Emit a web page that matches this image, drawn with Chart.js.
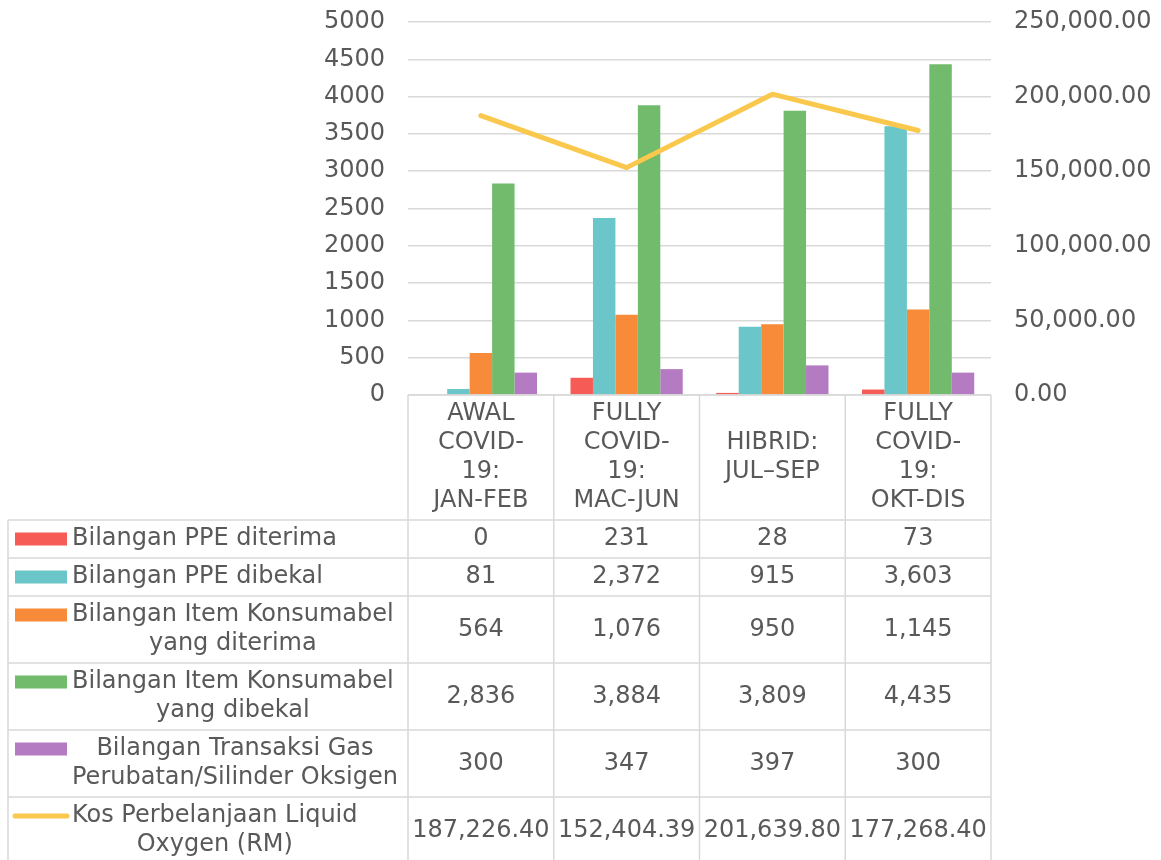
<!DOCTYPE html>
<html>
<head>
<meta charset="utf-8">
<title>PPE, Item Konsumabel dan Kos Liquid Oxygen</title>
<script src="https://cdn.jsdelivr.net/npm/chart.js@4.4.1/dist/chart.umd.min.js"></script>
<style>
  html, body { margin: 0; padding: 0; background: #ffffff; }
  #myChart { display: block; }
</style>
</head>
<body>
<canvas id="myChart" width="1161" height="860"></canvas>
<script>
// categories (multi-line, as wrapped in the table header)
const categories = [
  ['AWAL', 'COVID-', '19:', 'JAN-FEB'],
  ['FULLY', 'COVID-', '19:', 'MAC-JUN'],
  ['HIBRID:', 'JUL–SEP'],
  ['FULLY', 'COVID-', '19:', 'OKT-DIS'],
];

// series values
const ppeDiterima = [0, 231, 28, 73];
const ppeDibekal = [81, 2372, 915, 3603];
const konsumabelDiterima = [564, 1076, 950, 1145];
const konsumabelDibekal = [2836, 3884, 3809, 4435];
const transaksiGas = [300, 347, 397, 300];
const kosLiquidOxygen = [187226.40, 152404.39, 201639.80, 177268.40];

// series names, split into the lines shown in the table
const labelPpeDiterima = ['Bilangan PPE diterima'];
const labelPpeDibekal = ['Bilangan PPE dibekal'];
const labelKonsumabelDiterima = ['Bilangan Item Konsumabel', 'yang diterima'];
const labelKonsumabelDibekal = ['Bilangan Item Konsumabel', 'yang dibekal'];
const labelTransaksiGas = ['Bilangan Transaksi Gas', 'Perubatan/Silinder Oksigen'];
const labelKos = ['Kos Perbelanjaan Liquid', 'Oxygen (RM)'];

// axis ranges
const countAxis = {min: 0, max: 5000, step: 500};
const costAxis = {min: 0, max: 250000, step: 50000};

const FONT_FAMILY = '"DejaVu Sans", Verdana, sans-serif';
const FONT_SIZE = 24;
const TEXT_COLOR = '#595959';
const GRID_COLOR = '#d9d9d9';
const LINE_HEIGHT = 29;

const fmtCount = function (v) {
  return v.toLocaleString('en-US');
};
const fmtCost = function (v) {
  return v.toLocaleString('en-US', {minimumFractionDigits: 2, maximumFractionDigits: 2});
};

const tableRows = [
  {lines: labelPpeDiterima, data: ppeDiterima, color: '#f65b55', kind: 'bar', fmt: fmtCount},
  {lines: labelPpeDibekal, data: ppeDibekal, color: '#6ac6c8', kind: 'bar', fmt: fmtCount},
  {lines: labelKonsumabelDiterima, data: konsumabelDiterima, color: '#f88b39', kind: 'bar', fmt: fmtCount},
  {lines: labelKonsumabelDibekal, data: konsumabelDibekal, color: '#72ba6c', kind: 'bar', fmt: fmtCount},
  {lines: labelTransaksiGas, data: transaksiGas, color: '#b47ac2', kind: 'bar', fmt: fmtCount},
  {lines: labelKos, data: kosLiquidOxygen, color: '#f9c84c', kind: 'line', fmt: fmtCost},
];

const rowHeight = function (lineCount) {
  return lineCount * LINE_HEIGHT + 9;
};

// y axes: fixed width, and no extra vertical padding from the tick labels
const fitAxis = function (width) {
  return function (scale) {
    scale.width = width;
    scale.paddingTop = 0;
    scale.paddingBottom = 0;
  };
};

// data table under the plot: category header, legend keys and values
const dataTable = {
  id: 'dataTable',
  afterDraw: function (chart) {
    const ctx = chart.ctx;
    const area = chart.chartArea;
    const xScale = chart.scales.x;
    const colWidth = (area.right - area.left) / categories.length;
    const tableLeft = 8;
    const keyLeft = 15;
    const keyWidth = 52;
    const textLeft = 72;

    ctx.save();
    ctx.font = FONT_SIZE + 'px ' + FONT_FAMILY;
    ctx.fillStyle = TEXT_COLOR;
    ctx.strokeStyle = GRID_COLOR;
    ctx.lineWidth = 1.5;
    ctx.textBaseline = 'middle';

    const hLine = function (x1, x2, y) {
      ctx.beginPath();
      ctx.moveTo(x1, y);
      ctx.lineTo(x2, y);
      ctx.stroke();
    };
    const vLine = function (x, y1, y2) {
      ctx.beginPath();
      ctx.moveTo(x, y1);
      ctx.lineTo(x, y2);
      ctx.stroke();
    };

    // header with the category names
    const headerTop = area.bottom;
    const headerLines = Math.max.apply(null, categories.map(c => c.length));
    const headerBottom = headerTop + rowHeight(headerLines);
    hLine(area.left, area.right, headerTop);
    ctx.textAlign = 'center';
    categories.forEach(function (lines, i) {
      const cx = xScale.getPixelForValue(i);
      const cy = (headerTop + headerBottom) / 2;
      const first = cy - (lines.length - 1) * LINE_HEIGHT / 2;
      lines.forEach(function (text, k) {
        ctx.fillText(text, cx, first + k * LINE_HEIGHT);
      });
    });

    // one row per series
    let top = headerBottom;
    for (let row of tableRows) {
      const bottom = top + rowHeight(row.lines.length);
      const cy = (top + bottom) / 2;
      const firstY = cy - (row.lines.length - 1) * LINE_HEIGHT / 2;
      hLine(tableLeft, area.right, top);

      // legend key
      if (row.kind === 'bar') {
        ctx.fillStyle = row.color;
        ctx.fillRect(keyLeft, firstY - 6.5, keyWidth, 13);
      } else {
        ctx.save();
        ctx.strokeStyle = row.color;
        ctx.lineWidth = 5;
        ctx.lineCap = 'round';
        hLine(keyLeft, keyLeft + keyWidth, firstY);
        ctx.restore();
      }

      // series name, lines centred on the widest one
      ctx.fillStyle = TEXT_COLOR;
      const widest = Math.max.apply(null, row.lines.map(t => ctx.measureText(t).width));
      const textCenter = textLeft + widest / 2;
      row.lines.forEach(function (text, k) {
        ctx.fillText(text, textCenter, firstY + k * LINE_HEIGHT);
      });

      // values
      row.data.forEach(function (v, i) {
        ctx.fillText(row.fmt(v), xScale.getPixelForValue(i), cy);
      });

      top = bottom;
    }
    hLine(tableLeft, area.right, top);

    // column borders
    for (let i = 0; i <= categories.length; i++) {
      vLine(area.left + i * colWidth, headerTop, top);
    }
    vLine(tableLeft, headerBottom, top);

    ctx.restore();
  },
};

const app = {
  initChart: function () {
    const thisApp = this;

    Chart.defaults.font.family = FONT_FAMILY;
    Chart.defaults.font.size = FONT_SIZE;
    Chart.defaults.color = TEXT_COLOR;

    const barSets = tableRows.filter(r => r.kind === 'bar').map(function (r) {
      return {
        type: 'bar',
        label: r.lines.join(' '),
        data: r.data,
        backgroundColor: r.color,
        borderWidth: 0,
        categoryPercentage: 0.77,
        barPercentage: 1.0,
        yAxisID: 'y',
        order: 1,
      };
    });
    const lineSets = tableRows.filter(r => r.kind === 'line').map(function (r) {
      return {
        type: 'line',
        label: r.lines.join(' '),
        data: r.data,
        borderColor: r.color,
        backgroundColor: r.color,
        borderWidth: 5,
        borderCapStyle: 'round',
        borderJoinStyle: 'round',
        pointRadius: 0,
        tension: 0,
        yAxisID: 'y1',
        order: 0,
      };
    });

    thisApp.ctx = document.getElementById('myChart').getContext('2d');
    thisApp.chart = new Chart(thisApp.ctx, {
      type: 'bar',
      data: {
        labels: categories,
        datasets: barSets.concat(lineSets),
      },
      options: {
        responsive: false,
        animation: false,
        devicePixelRatio: 1,
        layout: {
          padding: {top: 22, left: 0, right: 0, bottom: 465},
        },
        plugins: {
          legend: {display: false},
          tooltip: {enabled: false},
        },
        scales: {
          x: {
            display: false,
            offset: true,
          },
          y: {
            position: 'left',
            min: countAxis.min,
            max: countAxis.max,
            afterFit: fitAxis(408),
            ticks: {
              stepSize: countAxis.step,
              padding: 23,
              color: TEXT_COLOR,
              callback: function (value) {
                return String(value);
              },
            },
            grid: {
              color: GRID_COLOR,
              lineWidth: 1.5,
              drawTicks: false,
            },
            border: {display: false},
          },
          y1: {
            position: 'right',
            min: costAxis.min,
            max: costAxis.max,
            afterFit: fitAxis(170),
            ticks: {
              stepSize: costAxis.step,
              padding: 23,
              color: TEXT_COLOR,
              callback: function (value) {
                return fmtCost(value);
              },
            },
            grid: {display: false, drawTicks: false},
            border: {display: false},
          },
        },
      },
      plugins: [dataTable],
    });
  },
  init: function () {
    const thisApp = this;

    thisApp.initChart();
  },
};

app.init();
</script>
</body>
</html>
